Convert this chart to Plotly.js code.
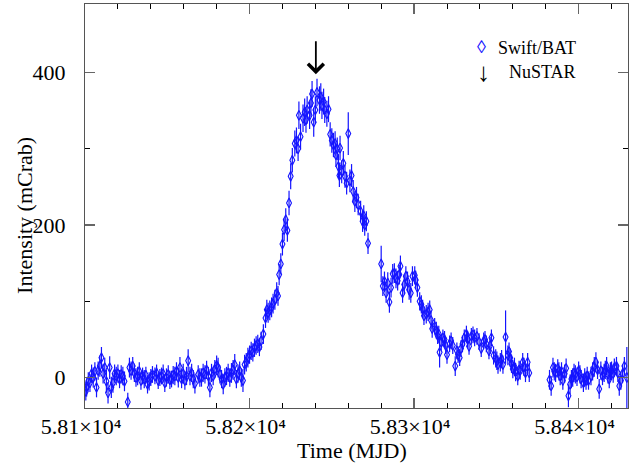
<!DOCTYPE html>
<html>
<head>
<meta charset="utf-8">
<script src="https://cdn.plot.ly/plotly-3.0.1.min.js"></script>
<style>html,body{margin:0;padding:0;background:#fff;}#chart{width:637px;height:466px;}</style>
</head>
<body>
<div id="chart"></div>
<script>
// Swift/BAT daily light curve (MJD, mCrab, 1-sigma error)
var mjd = [
58100.5,58101,58102,58103,58104,58105,58106,58107,58108,58109,
58110,58111,58112,58113,58114,58115,58116,58117,58118,58119,
58120,58121,58122,58123,58124,58126,58127,58128,58129,58130,
58131,58132,58133,58134,58135,58136,58137,58138,58139,58140,
58141,58142.5,58143.5,58144.5,58145.5,58146.5,58147.5,58148.5,58149.5,58150.6,
58151.6,58152.6,58153.6,58154.6,58155.6,58156.7,58157.7,58158.7,58159.7,58160.7,
58161.7,58162.7,58163.8,58164.8,58165.8,58166.8,58168.8,58169.8,58170.8,58171.8,
58172.9,58173.9,58175,58175.9,58176.9,58177.9,58178.9,58180,58180.9,58182,
58183,58184,58185,58186,58187,58188,58189,58190,58191,58192,
58193,58194,58195,58196,58197,58198,58199,58200,58201,58202,
58203,58204,58205,58206,58207,58208.4,58209.7,58210.5,58211.3,58212.3,
58213.4,58214.3,58215.4,58216.5,58217.3,58218,58219,58220,58221,58222,
58223,58224,58225,58226,58227.5,58228.5,58229.5,58230,58231,58232.5,
58233.5,58234.3,58235,58236.5,58237.3,58238,58239,58240,58241,58242.5,
58243.3,58244,58245,58245.7,58247,58248,58249,58250,58251,58252,
58252.5,58253.3,58254,58254.6,58255,58256,58257,58258,58259,58260,
58261,58262,58263,58264,58265,58266,58267.5,58268.7,58269.4,58270,
58271,58272,58280,58281,58282,58283,58284,58285,58286,58287,
58288,58289,58290,58291,58291.7,58293,58294,58295,58296,58297,
58298,58299,58300.4,58301,58302,58303.4,58304.4,58305.2,58306,58307.4,
58308.5,58309.5,58310.3,58311,58312.5,58313.5,58314.3,58315,58315.5,58316.5,
58317.5,58318.5,58319.2,58320,58321.6,58322.5,58323.5,58325,58326,58326.7,
58327.7,58328.5,58329.4,58330.5,58331.8,58332.5,58333.4,58334.8,58335.8,58336.8,
58338.2,58339.5,58340.8,58342.3,58343.1,58343.9,58345.5,58346.2,58347,58348.3,
58349.6,58350.3,58351,58352.4,58353.2,58354,58355.6,58357,58357.7,58358.4,
58359.2,58360,58361,58361.7,58363,58363.8,58364.5,58366,58366.8,58367.7,
58369,58370,58382.3,58383.3,58384.4,58385.2,58386,58387.3,58388,58388.8,
58389.6,58390.4,58391.5,58392.4,58393.8,58394.8,58395.6,58396.4,58397.2,58398,
58399,58400,58400.8,58401.5,58402.9,58403.7,58404.5,58405.2,58406,58407.5,
58408.5,58409.5,58410.5,58411.5,58412.5,58413.5,58414.5,58415.5,58416.2,58417,
58417.8,58418.6,58419.3,58420,58421,58421.7,58423,58423.8,58424.7,58425.7,
58426.7,58427.8,58429.3
];
var rate = [
-18,-13,-5,-7,5,0,8,-13,9,15,
26,5,13,-5,-20,13,-13,-7,5,2,
5,-2,4,2,-5,-32,13,9,15,6,
0,2,8,-4,2,-2,3,-9,-5,0,
4,2,6,-4,0,2,5,-7,0,4,
-3,-2,3,2,8,0,13,-2,5,-4,
2,22,2,6,-2,-8,4,0,0,6,
4,10,2,-13,6,2,11,16,13,4,
-2,-9,0,2,6,0,6,10,17,-2,
5,9,0,-4,17,20,26,30,35,33,
39,42,44,40,48,57,78,89,85,88,
92,97,102,111,107,135,149,175,194,207,
193,229,264,285,307,311,300,344,316,340,
348,338,351,344,360,372,335,351,374,364,
368,357,362,351,346,352,319,311,305,307,
292,300,277,265,301,270,281,264,255,320,
258,265,244,231,236,227,218,205,212,200,
205,176,149,120,126,111,124,99,118,136,
137,130,127,135,146,111,122,133,126,115,
111,133,134,128,118,100,96,90,81,83,
86,89,75,64,67,62,55,57,33,46,
52,50,42,30,44,48,42,15,35,30,
26,38,44,52,57,50,41,54,56,52,
54,47,38,48,50,44,35,42,52,29,
25,22,17,20,24,17,53,29,34,26,
18,11,14,7,2,10,9,20,14,6,
20,6,-3,-11,13,8,6,12,8,2,
8,-4,5,12,-24,-9,-2,0,6,4,
1,9,4,-2,-7,0,-4,2,-4,2,
8,14,20,10,-15,9,2,6,10,15,
4,-2,8,9,5,13,15,6,-11,-4,
5,15,0
];
var rateErr = [
12,12,12,12,12,13,12,13,12,14,
14,13,13,15,14,15,14,13,12,12,
12,12,12,12,13,12,13,12,12,12,
12,12,12,12,11,12,11,12,12,11,
11,11,11,11,11,11,12,12,12,12,
12,11,12,12,12,13,14,12,13,12,
12,15,12,12,12,13,12,12,12,12,
12,12,12,13,12,12,12,13,13,12,
12,13,12,12,12,12,13,13,14,12,
12,12,12,15,13,12,13,12,12,12,
12,12,12,12,12,13,13,13,13,13,
13,13,13,14,13,14,14,15,15,15,
15,16,17,16,17,17,16,18,17,18,
18,17,18,18,18,17,19,18,18,18,
18,18,17,17,17,17,16,16,16,16,
16,15,16,15,16,15,16,15,15,28,
15,15,15,14,14,14,14,14,14,14,
13,14,24,13,13,13,14,14,13,13,
13,13,13,13,14,13,13,13,13,13,
13,13,12,12,12,12,12,12,12,12,
12,12,12,12,11,11,11,11,20,11,
11,11,11,12,11,11,11,13,11,11,
11,11,11,11,11,11,11,11,11,11,
11,11,11,11,11,11,11,11,11,12,
12,12,12,12,12,12,35,13,12,12,
12,12,12,12,12,12,12,12,12,12,
12,12,13,13,13,12,12,12,12,12,
12,12,12,13,15,13,12,12,12,12,
12,12,12,12,12,12,12,12,12,12,
12,13,13,12,13,12,12,12,12,12,
12,12,12,12,12,12,12,12,13,12,
12,12,40
];
// NuSTAR observation epoch (MJD)
var nustarMJD = [58240.3];
// axis tick values and labels
var xTickVals = [58100, 58200, 58300, 58400];
var xTickText = ['5.81×10⁴', '5.82×10⁴', '5.83×10⁴', '5.84×10⁴'];
var yTickVals = [0, 200, 400];
var yTickText = ['0', '200', '400'];

var FONT = 'Liberation Serif';
var BLUE = 'rgb(20,20,255)';

var traces = [{
  type: 'scatter',
  mode: 'markers',
  name: 'Swift/BAT',
  x: mjd,
  y: rate,
  error_y: {type: 'data', array: rateErr, visible: true, color: BLUE, thickness: 1.2, width: 0},
  marker: {symbol: 'diamond-tall-open', size: 7, color: BLUE, line: {color: BLUE, width: 1.1}},
  showlegend: false,
  hoverinfo: 'x+y'
}];

var annotations = [
  {xref: 'paper', yref: 'paper', x: -0.1105, y: 0.478, text: 'Intensity (mCrab)', textangle: -90,
   showarrow: false, xanchor: 'center', yanchor: 'middle', font: {family: FONT, size: 22, color: 'black'}},
  {xref: 'paper', yref: 'paper', x: 0.491, y: -0.106, text: 'Time (MJD)',
   showarrow: false, xanchor: 'center', yanchor: 'middle', font: {family: FONT, size: 22, color: 'black'}},
  {xref: 'paper', yref: 'paper', x: 0.731, y: 0.8937, text: '◊',
   showarrow: false, xanchor: 'center', yanchor: 'middle', font: {family: FONT, size: 18, color: BLUE}},
  {xref: 'paper', yref: 'paper', x: 0.757, y: 0.890, text: 'Swift/BAT',
   showarrow: false, xanchor: 'left', yanchor: 'middle', font: {family: FONT, size: 18, color: 'black'}},
  {xref: 'paper', yref: 'paper', x: 0.733, y: 0.830, text: '↓',
   showarrow: false, xanchor: 'center', yanchor: 'middle', font: {family: FONT, size: 26, color: 'black'}},
  {xref: 'paper', yref: 'paper', x: 0.777, y: 0.832, text: 'NuSTAR',
   showarrow: false, xanchor: 'left', yanchor: 'middle', font: {family: FONT, size: 18, color: 'black'}},
  {xref: 'x', yref: 'y', axref: 'x', ayref: 'y', x: nustarMJD[0], y: 398, ax: nustarMJD[0], ay: 443,
   text: '', showarrow: true, arrowhead: 4, arrowsize: 1.7, arrowwidth: 1.8, arrowcolor: 'black', standoff: 0}
];

var axisCommon = {
  showgrid: false, zeroline: false, showline: true, linecolor: '#555', linewidth: 1.2,
  mirror: 'allticks', ticks: 'inside', ticklen: 10, tickwidth: 1.2, tickcolor: '#666',
  tickfont: {family: FONT, size: 22, color: 'black'}
};

var layout = {
  width: 637, height: 466,
  margin: {l: 85, r: 9, t: 4, b: 58},
  paper_bgcolor: 'white', plot_bgcolor: 'white',
  font: {family: FONT, size: 22, color: 'black'},
  showlegend: false,
  xaxis: Object.assign({}, axisCommon, {
    range: [58100, 58430], tickmode: 'array', tickvals: xTickVals, ticktext: xTickText,
    ticklabelshift: -4, ticklabelstandoff: -2,
    minor: {tickmode: 'linear', tick0: 58100, dtick: 20, ticks: 'inside', ticklen: 5, tickcolor: 'black', tickwidth: 1}
  }),
  yaxis: Object.assign({}, axisCommon, {
    range: [-40, 490], tickmode: 'array', tickvals: yTickVals, ticktext: yTickText,
    ticklabelstandoff: 14,
    minor: {tickmode: 'linear', tick0: 0, dtick: 100, ticks: 'inside', ticklen: 5, tickcolor: 'black', tickwidth: 1}
  }),
  annotations: annotations
};

Plotly.newPlot('chart', traces, layout, {displayModeBar: false, staticPlot: true});
</script>
</body>
</html>
